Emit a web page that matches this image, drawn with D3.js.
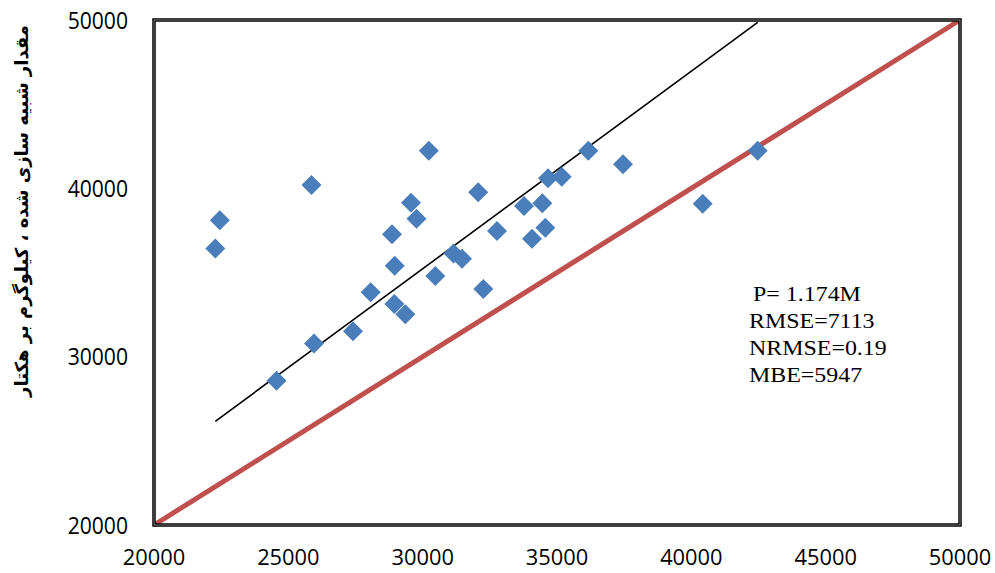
<!DOCTYPE html>
<html>
<head>
<meta charset="utf-8">
<script src="https://cdn.jsdelivr.net/npm/d3@7"></script>
<style>
  html, body { margin: 0; padding: 0; background: #fff; }
  svg { display: block; }
</style>
</head>
<body>
<svg id="chart" width="995" height="573"></svg>
<script>
// ---- data ----
const observed = [22282, 22449, 24560, 25862, 25955, 27407, 28066, 28859, 28959, 28944,
                  29354, 29566, 29771, 30228, 30470, 31148, 31464, 32067, 32257, 32767,
                  33772, 34069, 34453, 34565, 34665, 35175, 36165, 37457, 40423, 42470];
const simulated = [36427, 38102, 28573, 40199, 30783, 31508, 33825, 37271, 35405, 33130,
                   32518, 39148, 38198, 42231, 34793, 36130, 35821, 39766, 34021, 37466,
                   38952, 37009, 39112, 37662, 40597, 40692, 42237, 41429, 39088, 42237];
const xTicks = [20000, 25000, 30000, 35000, 40000, 45000, 50000];
const yTicks = [20000, 30000, 40000, 50000];
const trendSlope = 1.174;
const statsLines = ["P= 1.174M", "RMSE=7113", "NRMSE=0.19", "MBE=5947"];
const yLabel = "مقدار شبیه سازی شده ، کیلوگرم بر هکتار";

const svg = d3.select("#chart");
const L = 154, R = 960, T = 20, B = 525;
const x = d3.scaleLinear().domain([20000, 50000]).range([L, R]);
const y = d3.scaleLinear().domain([20000, 50000]).range([B, T]);

svg.append("defs").append("clipPath").attr("id", "clip")
  .append("rect").attr("x", L).attr("y", T).attr("width", R - L).attr("height", B - T);

// 1:1 line
svg.append("line")
  .attr("x1", x(20000)).attr("y1", y(20000))
  .attr("x2", x(50000)).attr("y2", y(50000))
  .attr("stroke", "#C0504D").attr("stroke-width", 5);

// trend line (through origin, slope from P = 1.174 M)
const xmin = d3.min(observed), xmax = d3.max(observed);
svg.append("line")
  .attr("clip-path", "url(#clip)")
  .attr("x1", x(xmin)).attr("y1", y(trendSlope * xmin))
  .attr("x2", x(xmax)).attr("y2", y(trendSlope * xmax))
  .attr("stroke", "#000").attr("stroke-width", 1.6);

// points
const pts = observed.map((v, i) => [v, simulated[i]]);
svg.append("g").selectAll("path").data(pts).enter().append("path")
  .attr("transform", d => `translate(${x(d[0])},${y(d[1])})`)
  .attr("d", "M0,-10L10,0L0,10L-10,0Z")
  .attr("fill", "#4A7EBB");

// frame
svg.append("rect").attr("x", L).attr("y", T).attr("width", R - L).attr("height", B - T)
  .attr("fill", "none").attr("stroke", "#000").attr("stroke-width", 3.5);
svg.append("rect").attr("x", L).attr("y", T).attr("width", R - L).attr("height", B - T)
  .attr("fill", "none").attr("stroke", "#999").attr("stroke-width", 0.8);

// tick labels
const tickFont = "'Open Sans', 'Liberation Sans', sans-serif";
svg.append("g").selectAll("text").data(xTicks).enter().append("text")
  .attr("transform", d => `translate(${x(d)},565) scale(1.04,1)`)
  .attr("text-anchor", "middle")
  .attr("font-family", tickFont).attr("font-size", 21)
  .text(d => d);
svg.append("g").selectAll("text").data(yTicks).enter().append("text")
  .attr("transform", d => `translate(128,${y(d) + 8.5}) scale(0.88,1)`)
  .attr("text-anchor", "end")
  .attr("font-family", tickFont).attr("font-size", 24)
  .text(d => d);

// y label
svg.append("text")
  .attr("transform", "translate(28,211) rotate(-90)")
  .attr("text-anchor", "middle")
  .attr("font-family", "'DejaVu Sans', sans-serif")
  .attr("font-weight", "bold").attr("font-size", 18)
  .attr("direction", "rtl")
  .text(yLabel);

// stats
const statX = [753, 749, 749, 749];
const statY = [301, 328, 355, 382];
svg.append("g").selectAll("text").data(statsLines).enter().append("text")
  .attr("transform", (d, i) => `translate(${statX[i]},${statY[i]}) scale(1.14,1)`)
  .attr("font-family", "'Liberation Serif', 'Times New Roman', serif")
  .attr("font-size", 21)
  .text(d => d);
</script>
</body>
</html>
